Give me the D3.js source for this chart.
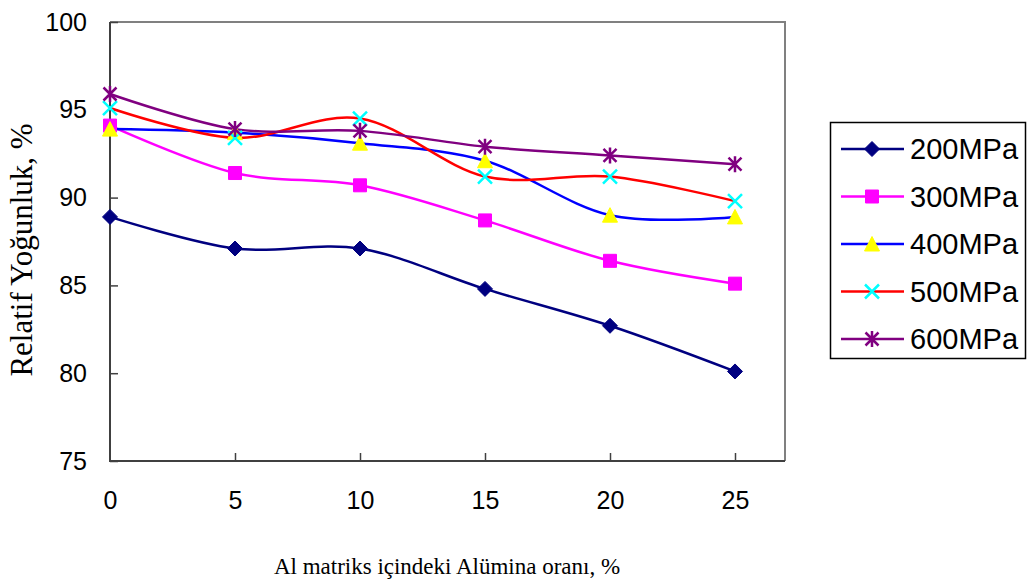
<!DOCTYPE html>
<html><head><meta charset="utf-8">
<script src="https://cdn.jsdelivr.net/npm/d3@7"></script>
<style>body{margin:0;background:#fff}svg{display:block}</style>
</head><body>
<script>
const xValues = [0, 5, 10, 15, 20, 25];
const seriesNames = ["200MPa", "300MPa", "400MPa", "500MPa", "600MPa"];
const s200 = [88.9, 87.1, 87.1, 84.8, 82.7, 80.1];
const s300 = [94.1, 91.4, 90.7, 88.7, 86.4, 85.1];
const s400 = [93.9, 93.7, 93.1, 92.1, 89.0, 88.9];
const s500 = [95.1, 93.4, 94.5, 91.2, 91.2, 89.8];
const s600 = [95.9, 93.9, 93.8, 92.9, 92.4, 91.9];
const yTicks = [75, 80, 85, 90, 95, 100];
const xTicks = [0, 5, 10, 15, 20, 25];

const W = 1027, H = 583;
const svg = d3.select("body").append("svg").attr("width", W).attr("height", H);
const L = 110, R = 785, T = 22, B = 461;
const x = d3.scaleLinear().domain([0, 27]).range([L, R]);
const y = d3.scaleLinear().domain([75, 100]).range([B, T]);

const styles = [
  {line: "#000080", marker: "diamond", fill: "#000080", stroke: "#000080"},
  {line: "#FF00FF", marker: "square", fill: "#FF00FF", stroke: "#FF00FF"},
  {line: "#0000FF", marker: "triangle", fill: "#FFFF00", stroke: "#FFFF00"},
  {line: "#FF0000", marker: "x", fill: "none", stroke: "#00FFFF"},
  {line: "#800080", marker: "star", fill: "none", stroke: "#800080"}
];
const data = [s200, s300, s400, s500, s600];

function markerPath(type) {
  const r = 7.5;
  switch (type) {
    case "diamond": return `M0,${-r}L${r},0L0,${r}L${-r},0Z`;
    case "square": return `M-6.5,-6.5H6.5V6.5H-6.5Z`;
    case "triangle": return `M0,-7.5L7.5,7L-7.5,7Z`;
    case "x": return `M-7,-7L7,7M-7,7L7,-7`;
    case "star": return `M-6.5,-6.5L6.5,6.5M-6.5,6.5L6.5,-6.5M0,-8V8`;
  }
}

svg.append("path").attr("d", `M${L},${T}H${R}V${B}`).attr("fill", "none")
  .attr("stroke", "#808080").attr("stroke-width", 2);

const yAxis = d3.axisLeft(y).tickValues(yTicks).tickSize(-8).tickPadding(23).tickFormat(d3.format("d"));
const gy = svg.append("g").attr("transform", `translate(${L},0)`).call(yAxis);
const xAxis = d3.axisBottom(x).tickValues(xTicks).tickSize(-8).tickPadding(30).tickFormat(d3.format("d"));
const gx = svg.append("g").attr("transform", `translate(0,${B})`).call(xAxis);
[gy, gx].forEach(g => {
  g.select(".domain").remove();
  g.selectAll(".tick line").attr("stroke", "#404040").attr("stroke-width", 1.5);
  g.selectAll("text").attr("font-family", "Liberation Sans, Arial, sans-serif")
    .attr("font-size", 25).attr("fill", "#000");
});
gx.selectAll(".tick").filter(d => d === 0).select("line").remove();
svg.append("path").attr("d", `M${L},${T}V${B}H${R}`).attr("fill", "none")
  .attr("stroke", "#404040").attr("stroke-width", 2);

const line = d3.line().x((d, i) => x(xValues[i])).y(d => y(d)).curve(d3.curveCardinal.tension(0));

data.forEach((vals, k) => {
  const st = styles[k];
  svg.append("path").datum(vals).attr("d", line).attr("fill", "none")
    .attr("stroke", st.line).attr("stroke-width", 2.5);
});
data.forEach((vals, k) => {
  const st = styles[k];
  svg.append("g").selectAll("path").data(vals).join("path")
    .attr("transform", (d, i) => `translate(${x(xValues[i])},${y(d)})`)
    .attr("d", markerPath(st.marker))
    .attr("fill", st.fill).attr("stroke", st.stroke)
    .attr("stroke-width", st.fill === "none" ? 2.5 : 1);
});

const lg = svg.append("g");
lg.append("rect").attr("x", 830.5).attr("y", 122.5).attr("width", 195).attr("height", 236)
  .attr("fill", "#fff").attr("stroke", "#000").attr("stroke-width", 1.5);
seriesNames.forEach((name, k) => {
  const st = styles[k];
  const cy = 149 + k * 47.5;
  lg.append("line").attr("x1", 841).attr("x2", 904).attr("y1", cy).attr("y2", cy)
    .attr("stroke", st.line).attr("stroke-width", 2.5);
  lg.append("path").attr("transform", `translate(872,${cy})`).attr("d", markerPath(st.marker))
    .attr("fill", st.fill).attr("stroke", st.stroke).attr("stroke-width", st.fill === "none" ? 2.5 : 1);
  lg.append("text").attr("x", 910).attr("y", cy).attr("dy", "0.36em")
    .attr("font-family", "Liberation Sans, Arial, sans-serif").attr("font-size", 29)
    .text(name);
});

svg.append("text").attr("x", 447).attr("y", 574).attr("text-anchor", "middle")
  .attr("font-family", "Liberation Serif, Times New Roman, serif").attr("font-size", 23)
  .text("Al matriks içindeki Alümina oranı, %");
svg.append("text").attr("transform", "translate(32,250) rotate(-90)").attr("text-anchor", "middle")
  .attr("font-family", "Liberation Serif, Times New Roman, serif").attr("font-size", 31)
  .text("Relatif Yoğunluk, %");
</script>
</body></html>
